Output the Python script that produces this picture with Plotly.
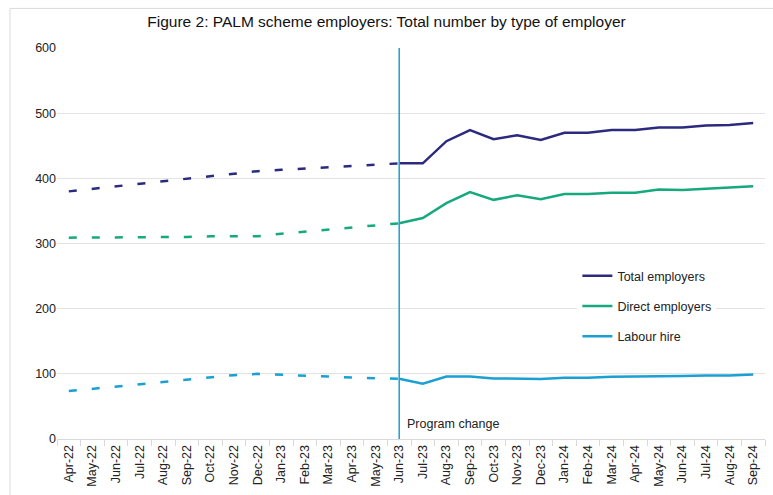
import plotly.graph_objects as go

months = ["Apr-22", "May-22", "Jun-22", "Jul-22", "Aug-22", "Sep-22", "Oct-22", "Nov-22",
          "Dec-22", "Jan-23", "Feb-23", "Mar-23", "Apr-23", "May-23", "Jun-23", "Jul-23",
          "Aug-23", "Sep-23", "Oct-23", "Nov-23", "Dec-23", "Jan-24", "Feb-24", "Mar-24",
          "Apr-24", "May-24", "Jun-24", "Jul-24", "Aug-24", "Sep-24"]

total_employers = [380, 384, 388, 392, 396, 400, 404, 408, 411, 413, 415, 417, 419, 421, 423,
                   423, 457, 474, 460, 466, 459, 470, 470, 474, 474, 478, 478, 481, 482, 485]
direct_employers = [309, 309, 310, 310, 310, 310, 311, 311, 311, 315, 318, 321, 324, 328, 331,
                    339, 362, 379, 367, 374, 368, 376, 376, 378, 378, 383, 382, 384, 385, 388]
labour_hire = [73.5, 77, 80.5, 84, 87.5, 91, 95, 98, 100, 98.5, 97, 96, 95, 93, 92.5,
               85, 96, 96, 93, 92, 92, 94, 94, 95.5, 95.5, 95.5, 96.5, 97.5, 97.5, 99]

program_change = "Jun-23"
series_names = ["Total employers", "Direct employers", "Labour hire"]
colors = ["#2b2a7f", "#17a97e", "#1aa0d2"]
y_ticks = [0, 100, 200, 300, 400, 500, 600]

FONT = "Liberation Sans"
split = months.index(program_change)

fig = go.Figure()
for name, vals, col in zip(series_names, [total_employers, direct_employers, labour_hire], colors):
    fig.add_trace(go.Scatter(
        x=months[:split + 1], y=vals[:split + 1], mode="lines",
        line=dict(color=col, width=2.5, dash="8px,15px"),
        showlegend=False, hoverinfo="skip"))
for name, vals, col in zip(series_names, [total_employers, direct_employers, labour_hire], colors):
    fig.add_trace(go.Scatter(
        x=months[split:], y=vals[split:], mode="lines", name=name,
        legendgroup=name,
        line=dict(color=col, width=2.5)))

fig.add_shape(type="line", xref="x", yref="paper", x0=program_change, x1=program_change,
              y0=0, y1=1, line=dict(color="#1aa0d2", width=1.5), layer="above")
fig.add_annotation(xref="x", yref="y", x=program_change, y=0, xanchor="left", yanchor="bottom",
                   xshift=6, yshift=6, text="Program change", showarrow=False,
                   font=dict(family=FONT, size=12.5, color="#222222"))

# outer chart border
fig.add_shape(type="rect", xref="paper", yref="paper",
              x0=(10 - 57) / 708, x1=(800 - 57) / 708,
              y0=(443 - 520) / 395, y1=(443 - 8) / 395,
              line=dict(color="#d9d9d9", width=1), fillcolor="rgba(0,0,0,0)", layer="below")

fig.update_layout(
    width=773, height=495,
    margin=dict(l=57, r=8, t=48, b=52),
    paper_bgcolor="white", plot_bgcolor="white",
    font=dict(family=FONT, size=12.5, color="#222222"),
    title=dict(text="Figure 2: PALM scheme employers: Total number by type of employer",
               x=0.5, xref="container", xanchor="center", y=1 - 22 / 495, yanchor="middle",
               font=dict(family=FONT, size=15.5, color="#111111")),
    showlegend=True,
    legend=dict(x=0.735, xanchor="left", y=0.455, yanchor="top",
                bgcolor="white", borderwidth=0,
                traceorder="grouped", tracegroupgap=11,
                font=dict(family=FONT, size=12.5, color="#222222"),
                itemwidth=30),
    xaxis=dict(type="category", categoryorder="array", categoryarray=months,
               tickangle=-90, tickson="boundaries", ticks="outside", ticklen=6,
               tickcolor="#d9d9d9", showline=True, linecolor="#d9d9d9", linewidth=1,
               showgrid=False, tickfont=dict(family=FONT, size=12.5),
               range=[-0.5, len(months) - 0.5], fixedrange=True),
    yaxis=dict(range=[0, 600], tickvals=y_ticks, showgrid=True, gridcolor="#e3e3e3",
               gridwidth=1, zeroline=False, showline=False, ticks="",
               tickfont=dict(family=FONT, size=12.5)),
)

fig.write_html("out.html", config={"displayModeBar": False},
               post_script="document.body.style.margin='0px';")
